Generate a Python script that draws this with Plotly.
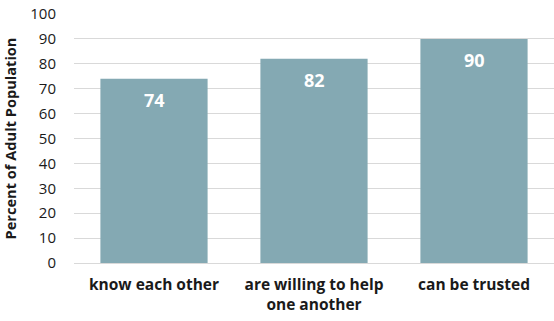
import plotly.graph_objects as go

categories = ["know each other", "are willing to help<br>one another", "can be trusted"]
values = [74, 82, 90]
y_ticks = [0, 10, 20, 30, 40, 50, 60, 70, 80, 90, 100]

bar_color = "#84A9B3"
font_family = "'Open Sans', sans-serif"

fig = go.Figure()
fig.add_trace(go.Bar(
    x=categories, y=values,
    marker=dict(color=bar_color, line=dict(width=0)),
    width=0.67,
    hoverinfo="x+y",
))

for c, v in zip(categories, values):
    fig.add_annotation(x=c, y=v, text=f"<b>{v}</b>", showarrow=False,
                       yshift=-21, font=dict(family=font_family, size=18, color="white"))

fig.update_layout(
    width=554, height=321,
    margin=dict(l=74, r=0, t=14, b=58, autoexpand=False),
    paper_bgcolor="white", plot_bgcolor="white",
    showlegend=False,
    font=dict(family=font_family, color="#1a1a1a"),
    xaxis=dict(
        automargin=False,
        tickfont=dict(family=font_family, size=15.5, color="#1a1a1a"),
        showgrid=False, zeroline=False, showline=False, ticks="",
        tickprefix="<b>", ticksuffix="</b>",
        ticklabelstandoff=10,
    ),
    yaxis=dict(
        automargin=False,
        range=[0, 100], tickvals=y_ticks,
        tickfont=dict(family=font_family, size=15, color="#1a1a1a"),
        tickprefix="<b>", ticksuffix="</b>",
        ticklabeloverflow="allow",
        showgrid=True, gridcolor="#D9D9D9", gridwidth=1,
        zeroline=True, zerolinecolor="#D9D9D9", zerolinewidth=1,
        ticks="", ticklabelstandoff=17,
        title=dict(text="<b>Percent of Adult Population</b>",
                   font=dict(family=font_family, size=14.6, color="#1a1a1a"),
                   standoff=10),
    ),
)

fig.write_html("out.html", config={"displayModeBar": False},
               post_script="document.body.style.margin='0';")
